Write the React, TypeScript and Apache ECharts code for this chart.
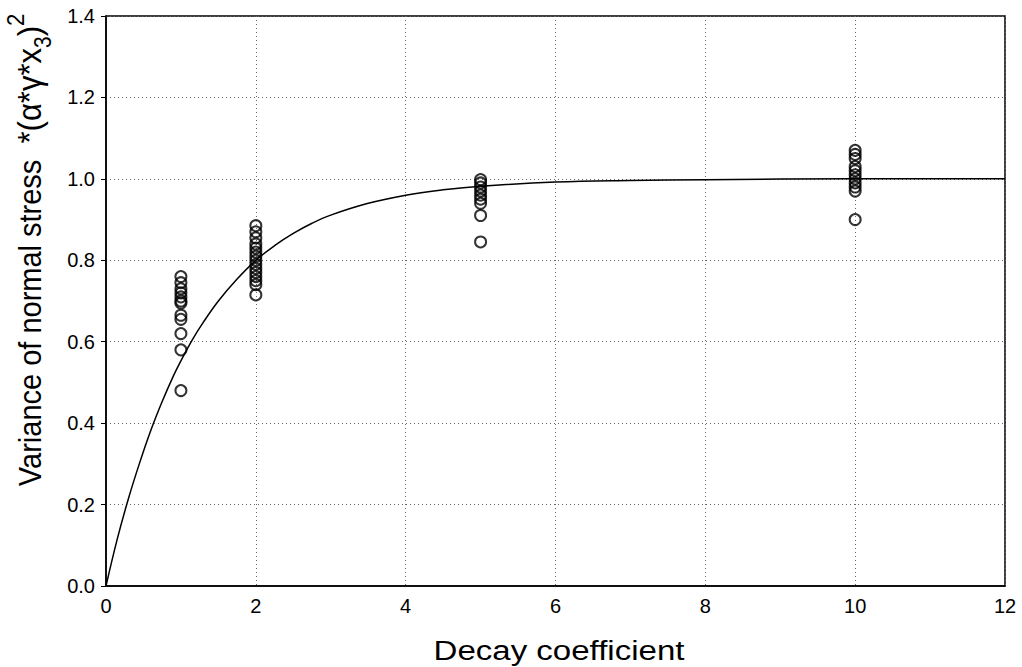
import React, { useEffect, useRef } from "react";
import * as echarts from "echarts";

const xTicks = [0, 2, 4, 6, 8, 10, 12];
const yTicks = [0, 0.2, 0.4, 0.6, 0.8, 1.0, 1.2, 1.4];

const decayK1 = [0.76, 0.745, 0.73, 0.72, 0.71, 0.7, 0.695, 0.665, 0.655, 0.62, 0.58, 0.48];
const decayK2 = [0.885, 0.87, 0.855, 0.84, 0.83, 0.82, 0.81, 0.8, 0.79, 0.78, 0.77, 0.76, 0.75, 0.74, 0.715];
const decayK5 = [0.998, 0.99, 0.98, 0.97, 0.96, 0.95, 0.94, 0.91, 0.845];
const decayK10 = [1.07, 1.06, 1.05, 1.03, 1.02, 1.01, 1.0, 0.99, 0.98, 0.97, 0.9];

// Fitted curve
const curveX = [0, 0.15, 0.3, 0.45, 0.6, 0.75, 0.9, 1, 1.15, 1.3, 1.5, 1.75, 2, 2.25, 2.5, 2.75, 3, 3.5, 4, 4.5, 5, 6, 7, 8, 10, 12];
const curveY = [0, 0.115, 0.215, 0.303, 0.383, 0.453, 0.516, 0.553, 0.604, 0.648, 0.7, 0.754, 0.8, 0.836, 0.866, 0.891, 0.911, 0.94, 0.96, 0.973, 0.982, 0.992, 0.996, 0.998, 1.0, 1.0];

const FONT = "Liberation Sans, Arial, sans-serif";

export default function App() {
  const ref = useRef<HTMLDivElement>(null);
  useEffect(() => {
    document.body.style.margin = "0";
    const chart = echarts.init(ref.current!, null, { renderer: "svg" });
    const pts = (x: number, vals: number[]) => vals.map((v) => [x, v]);
    const scatterData = [
      ...pts(1, decayK1),
      ...pts(2, decayK2),
      ...pts(5, decayK5),
      ...pts(10, decayK10),
    ];
    chart.setOption({
      animation: false,
      backgroundColor: "#fff",
      grid: {
        left: 106,
        right: 17,
        top: 16,
        bottom: 81,
        show: true,
        borderColor: "#000",
        borderWidth: 1.5,
        containLabel: false,
      },
      xAxis: {
        type: "value",
        min: xTicks[0],
        max: xTicks[xTicks.length - 1],
        interval: 2,
        axisLine: { show: true, lineStyle: { color: "#000", width: 1.5 } },
        axisTick: { show: false },
        axisLabel: { color: "#000", fontSize: 20, fontFamily: FONT, margin: 10 },
        splitLine: { show: true, lineStyle: { color: "#666", type: [1, 3], width: 1 } },
      },
      yAxis: {
        type: "value",
        min: yTicks[0],
        max: yTicks[yTicks.length - 1],
        interval: 0.2,
        axisLine: { show: true, lineStyle: { color: "#000", width: 1.5 } },
        axisTick: { show: true, length: 5, lineStyle: { color: "#000" } },
        axisLabel: {
          color: "#000",
          fontSize: 20,
          fontFamily: FONT,
          margin: 11,
          formatter: (v: number) => v.toFixed(1),
        },
        splitLine: { show: true, lineStyle: { color: "#666", type: [1, 3], width: 1 } },
      },
      graphic: [
        {
          type: "text",
          x: 559,
          y: 650,
          scaleX: 1.18,
          style: {
            text: "Decay coefficient",
            fontSize: 28,
            fontFamily: FONT,
            fill: "#000",
            align: "center",
            verticalAlign: "middle",
          },
        },
        {
          type: "text",
          x: 29,
          y: 250,
          rotation: Math.PI / 2,
          scaleY: 1.1,
          style: {
            text: "{m|Variance of normal stress  }{q|*(α*γ*x}{s|3}{q|)}{p|2}",
            fontFamily: FONT,
            fill: "#000",
            align: "center",
            verticalAlign: "middle",
            rich: {
              m: { fontSize: 29, fontFamily: FONT, fill: "#000", lineHeight: 46 },
              q: { fontSize: 31, fontFamily: FONT, fill: "#000", lineHeight: 46 },
              s: { fontSize: 21, fontFamily: FONT, fill: "#000", lineHeight: 21, verticalAlign: "bottom" },
              p: { fontSize: 22, fontFamily: FONT, fill: "#000", lineHeight: 21, verticalAlign: "top" },
            },
          },
        },
      ],
      series: [
        {
          type: "line",
          data: curveX.map((x, i) => [x, curveY[i]]),
          smooth: 0.4,
          showSymbol: false,
          symbol: "none",
          lineStyle: { color: "#000", width: 1.5 },
          z: 2,
        },
        {
          type: "scatter",
          data: scatterData,
          symbol: "circle",
          symbolSize: 11,
          itemStyle: { color: "rgba(0,0,0,0)", borderColor: "#000", borderWidth: 2 },
          z: 3,
        },
      ],
    });
    return () => chart.dispose();
  }, []);
  return (
    <div
      ref={ref}
      style={{ position: "absolute", left: 0, top: 0, width: 1022, height: 667 }}
    />
  );
}
